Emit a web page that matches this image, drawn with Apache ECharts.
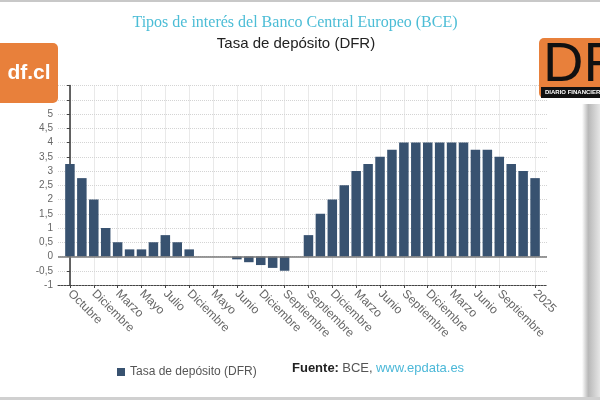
<!DOCTYPE html>
<html>
<head>
<meta charset="utf-8">
<script src="https://cdn.jsdelivr.net/npm/echarts@6/dist/echarts.min.js"></script>
<style>
  html, body { margin: 0; padding: 0; background: #fff; }
  #chart { width: 600px; height: 400px; }
</style>
</head>
<body>
<div id="chart"></div>
<script>
  // etiquetas del eje x (una por barra, vacías donde no hay rótulo)
  const categories = [
    'Octubre', '', 'Diciembre', '', 'Marzo', '', 'Mayo', '', 'Julio', '',
    'Diciembre', '', 'Mayo', '', 'Junio', '', 'Diciembre', '', 'Septiembre', '',
    'Septiembre', '', 'Diciembre', '', 'Marzo', '', 'Junio', '', 'Septiembre', '',
    'Diciembre', '', 'Marzo', '', 'Junio', '', 'Septiembre', '', '', '2025'
  ]
  // tasa de depósito (%)
  const dfrValues = [
    3.25, 2.75, 2, 1, 0.5, 0.25, 0.25, 0.5, 0.75, 0.5,
    0.25, 0, 0, 0, -0.1, -0.2, -0.3, -0.4, -0.5, 0,
    0.75, 1.5, 2, 2.5, 3, 3.25, 3.5, 3.75, 4, 4,
    4, 4, 4, 4, 3.75, 3.75, 3.5, 3.25, 3, 2.75
  ]
  const seriesName = 'Tasa de depósito (DFR)'

  const tickValues = []
  categories.forEach((c, i) => { if (c) tickValues.push(i) })
  const seriesData = dfrValues.map((v, i) => [i, v])

  const orange = '#e8803b'
  const chart = echarts.init(document.getElementById('chart'))

  chart.setOption({
    animation: false,
    backgroundColor: '#fff',
    textStyle: { fontFamily: 'Liberation Sans, Arial, sans-serif' },
    grid: {
      left: 58,
      right: 53,
      top: 85.5,
      bottom: 115
    },
    legend: {
      left: 112,
      top: 361,
      icon: 'rect',
      itemWidth: 8,
      itemHeight: 8,
      itemGap: 6,
      textStyle: { color: '#555', fontSize: 12 },
      data: [seriesName]
    },
    xAxis: {
      type: 'value',
      min: -1,
      max: 40,
      axisLine: {
        show: true,
        onZero: false,
        lineStyle: { color: '#444', width: 1, type: [2, 1] }
      },
      axisTick: {
        show: true,
        customValues: tickValues,
        length: 3,
        lineStyle: { color: '#444' }
      },
      axisLabel: {
        customValues: tickValues,
        rotate: -45,
        margin: 7,
        color: '#666',
        fontSize: 12,
        formatter: (v) => categories[v] || ''
      },
      splitLine: {
        show: true,
        lineStyle: { color: '#d4d4d4', type: 'dotted' }
      }
    },
    yAxis: {
      type: 'value',
      min: -1,
      max: 6,
      interval: 0.5,
      axisLine: { show: true, lineStyle: { color: '#333', width: 1.5 } },
      axisTick: { show: true, length: 3, lineStyle: { color: '#444' } },
      axisLabel: {
        color: '#666',
        fontSize: 10,
        margin: 5,
        // los rótulos 5,5 y 6 quedan tapados por el logo
        formatter: (v) => (v > 5 ? '' : String(v).replace('.', ','))
      },
      splitLine: {
        show: true,
        lineStyle: { color: '#d4d4d4', type: 'dotted' }
      }
    },
    series: [
      {
        name: seriesName,
        type: 'bar',
        data: seriesData,
        barWidth: 9.5,
        itemStyle: { color: '#385270' },
        markLine: {
          silent: true,
          symbol: 'none',
          label: { show: false },
          lineStyle: { color: '#7a7a7a', width: 1.5, type: 'solid' },
          data: [{ yAxis: 0 }]
        }
      }
    ],
    graphic: [
      // marco de la captura
      { type: 'rect', z: 100, shape: { x: 0, y: 0, width: 600, height: 2 }, style: { fill: '#c8c8c8' } },
      { type: 'rect', z: 100, shape: { x: 0, y: 397, width: 600, height: 3 }, style: { fill: '#d0d0d0' } },
      {
        type: 'rect',
        z: 100,
        shape: { x: 582, y: 104, width: 18, height: 293 },
        style: {
          fill: new echarts.graphic.LinearGradient(0, 0, 1, 0, [
            { offset: 0, color: '#ffffff' },
            { offset: 0.35, color: '#b8b8b8' },
            { offset: 1, color: '#e6e6e6' }
          ])
        }
      },
      // títulos
      {
        type: 'text',
        x: 295,
        y: 23,
        style: {
          text: 'Tipos de interés del Banco Central Europeo (BCE)',
          fill: '#4cbdd6',
          font: '16px "Liberation Serif", "Times New Roman", serif',
          textAlign: 'center',
          textVerticalAlign: 'middle'
        }
      },
      {
        type: 'text',
        x: 296,
        y: 44,
        style: {
          text: 'Tasa de depósito (DFR)',
          fill: '#222',
          font: '15px "Liberation Sans", Arial, sans-serif',
          textAlign: 'center',
          textVerticalAlign: 'middle'
        }
      },
      // logo df.cl
      {
        type: 'rect',
        z: 100,
        shape: { x: 0, y: 43, width: 58, height: 60, r: [0, 5, 5, 0] },
        style: { fill: orange }
      },
      {
        type: 'text',
        z: 101,
        x: 29,
        y: 73,
        style: {
          text: 'df.cl',
          fill: '#fff',
          font: 'bold 21px "Liberation Sans", Arial, sans-serif',
          textAlign: 'center',
          textVerticalAlign: 'middle'
        }
      },
      // logo DF
      {
        type: 'rect',
        z: 100,
        shape: { x: 539, y: 38, width: 70, height: 60, r: [5, 0, 0, 5] },
        style: { fill: orange }
      },
      {
        type: 'rect',
        z: 101,
        shape: { x: 541, y: 87, width: 60, height: 11 },
        style: { fill: '#111' }
      },
      {
        type: 'text',
        z: 101,
        x: 543,
        y: 66,
        style: {
          text: 'DF',
          fill: '#111',
          font: '56px "Liberation Sans", Arial, sans-serif',
          textAlign: 'left',
          textVerticalAlign: 'middle'
        }
      },
      {
        type: 'text',
        z: 102,
        x: 545,
        y: 92.5,
        style: {
          text: 'DIARIO FINANCIERO',
          fill: '#fff',
          font: 'bold 6px "Liberation Sans", Arial, sans-serif',
          textAlign: 'left',
          textVerticalAlign: 'middle'
        }
      },
      // fuente
      {
        type: 'text',
        x: 292,
        y: 368,
        style: {
          text: '{b|Fuente:} {g|BCE,} {l|www.epdata.es}',
          textVerticalAlign: 'middle',
          rich: {
            b: { fontWeight: 'bold', fill: '#222', fontSize: 13, fontFamily: 'Liberation Sans' },
            g: { fill: '#555', fontSize: 13, fontFamily: 'Liberation Sans' },
            l: { fill: '#4cb8d8', fontSize: 13, fontFamily: 'Liberation Sans' }
          }
        }
      }
    ]
  })
</script>
</body>
</html>
